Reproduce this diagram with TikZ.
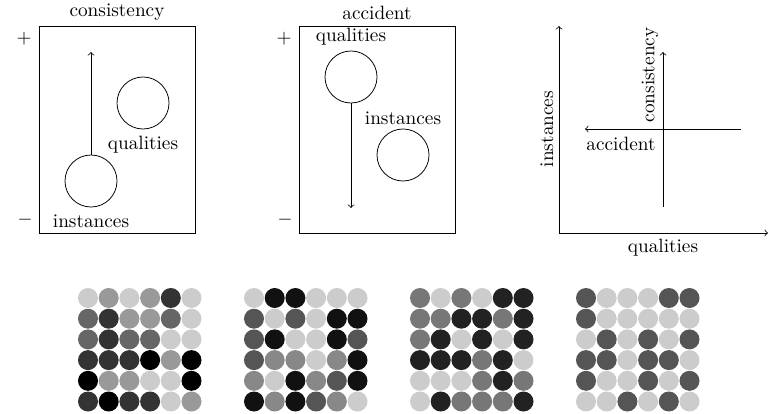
\documentclass[tikz,border=0pt]{standalone}
\definecolor{cc}{HTML}{CCCCCC}
\definecolor{n9}{HTML}{999999}
\definecolor{n8}{HTML}{888888}
\definecolor{n7}{HTML}{777777}
\definecolor{n6}{HTML}{666666}
\definecolor{n5}{HTML}{555555}
\definecolor{n3}{HTML}{333333}
\definecolor{n2}{HTML}{222222}
\definecolor{n1}{HTML}{111111}
\definecolor{n0}{HTML}{000000}
\begin{document}
\begin{tikzpicture}[x=0.519pt,y=-0.519pt,
  lbl/.style={inner sep=0pt},
  blob/.style={draw,circle,minimum size=27pt,inner sep=0pt},
  panel/.style={draw},
  arr/.style={->}]
\useasboundingbox (0,0) rectangle (774,414);
% panel 1
\draw[panel] (39,26) rectangle (195,233);
\node[lbl] (t1) at (117,12) {consistency};
\node[lbl] (p1) at (24,39) {$+$};
\node[lbl] (m1) at (25,220) {$-$};
\node[blob] (i1) at (91,181) {};
\node[blob] (q1) at (143,103) {};
\node[lbl] (ql1) at (143,145) {qualities};
\node[lbl] (il1) at (91,221) {instances};
\coordinate (e1) at (91,52);
\draw[arr] (i1) -- (e1);
% panel 2
\draw[panel] (299,26) rectangle (455,233);
\node[lbl] (t2) at (377,13) {accident};
\node[lbl] (p2) at (284,39) {$+$};
\node[lbl] (m2) at (285,220) {$-$};
\node[blob] (q2) at (351,77) {};
\node[blob] (i2) at (403,155) {};
\node[lbl] (ql2) at (351,37) {qualities};
\node[lbl] (il2) at (403,118) {instances};
\coordinate (e2) at (351,208);
\draw[arr] (q2) -- (e2);
% panel 3
\coordinate (o) at (559,233);
\coordinate (ya) at (559,26);
\coordinate (xa) at (768,233);
\draw[arr] (o) -- (ya);
\draw[arr] (o) -- (xa);
\node[lbl] (qx) at (663,248) {qualities};
\node[lbl,rotate=90] (iy) at (547,129) {instances};
\coordinate (vs) at (663,207);
\coordinate (ve) at (663,52);
\draw[arr] (vs) -- (ve);
\coordinate (hs) at (741,129);
\coordinate (he) at (585,129);
\draw[arr] (hs) -- (he);
\node[lbl,rotate=90] (cy) at (650,75) {consistency};
\node[lbl] (ac) at (621,144) {accident};
% grids
\foreach \row [count=\r] in {{cc,n9,cc,n9,n3,cc},{n6,n3,n9,n9,n6,cc},{n6,n3,n6,n6,cc,cc},{n3,n3,n3,n0,n9,n0},{n0,n9,n9,cc,cc,n0},{n3,n0,n3,n3,cc,n9}}
  \foreach \col [count=\k] in \row
    \fill[\col] ({88+(\k-1)*20.7},{298+(\r-1)*20.7}) circle[radius=10];
\foreach \row [count=\r] in {{cc,n1,n1,cc,cc,cc},{n5,cc,n5,cc,n1,n1},{n5,n1,cc,cc,n1,n5},{n5,n8,n8,cc,n8,n1},{n8,cc,n1,n8,n5,n1},{n1,n8,n1,n5,n8,cc}}
  \foreach \col [count=\k] in \row
    \fill[\col] ({254+(\k-1)*20.7},{298+(\r-1)*20.7}) circle[radius=10];
\foreach \row [count=\r] in {{n7,cc,n7,cc,n2,n2},{n7,n7,n2,n2,n7,n2},{n7,n2,cc,n2,cc,n2},{n2,n2,n2,n7,n2,cc},{cc,cc,cc,n7,n2,n7},{cc,n2,n7,n7,n7,n2}}
  \foreach \col [count=\k] in \row
    \fill[\col] ({420+(\k-1)*20.7},{298+(\r-1)*20.7}) circle[radius=10];
\foreach \row [count=\r] in {{n5,cc,cc,cc,n5,n5},{n5,cc,cc,cc,cc,cc},{cc,n5,cc,n5,cc,n5},{n5,n5,cc,n5,n5,cc},{n5,cc,cc,n5,cc,n5},{cc,cc,n5,cc,n5,cc}}
  \foreach \col [count=\k] in \row
    \fill[\col] ({586+(\k-1)*20.7},{298+(\r-1)*20.7}) circle[radius=10];
\end{tikzpicture}
\end{document}
